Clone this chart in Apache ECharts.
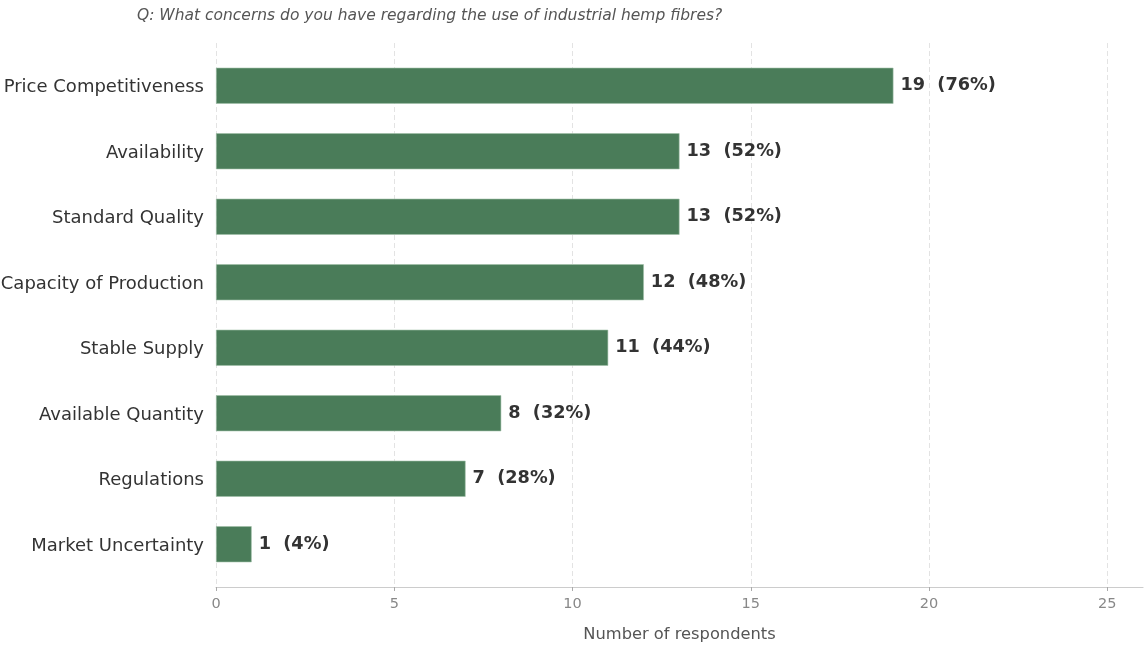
<!DOCTYPE html>
<html>
<head>
<meta charset="utf-8">
<script src="https://cdn.jsdelivr.net/npm/echarts@6/dist/echarts.min.js"></script>
<style>
  html, body { margin: 0; padding: 0; background: #fff; }
  #chart { width: 1144px; height: 646px; }
</style>
</head>
<body>
<div id="chart"></div>
<script>
// Survey answers, top to bottom
const categories = [
  'Price Competitiveness',
  'Availability',
  'Standard Quality',
  'Capacity of Production',
  'Stable Supply',
  'Available Quantity',
  'Regulations',
  'Market Uncertainty'
];
const respondents = [19, 13, 13, 12, 11, 8, 7, 1];
const percents = [76, 52, 52, 48, 44, 32, 28, 4];
const xTicks = [0, 5, 10, 15, 20, 25];

const titleText = 'Q: What concerns do you have regarding the use of industrial hemp fibres?';
const xName = 'Number of respondents';

const FONT = 'DejaVu Sans';
const TICK_MAX = 25;   // last gridline
const XMAX = 26;       // right end of the axis

const chart = echarts.init(document.getElementById('chart'), null, { renderer: 'canvas' });

const fixedGrid = { outerBoundsMode: 'none', containLabel: false };

chart.setOption({
  animation: false,
  backgroundColor: '#ffffff',
  title: {
    text: titleText,
    left: 132,
    top: 3,
    textStyle: { fontFamily: FONT, fontStyle: 'italic', fontWeight: 'normal', fontSize: 15.5, color: '#555555' }
  },
  grid: [
    // bar area
    Object.assign({ left: 216, right: 1, top: 53, bottom: 69 }, fixedGrid),
    // gridlines, ticks and tick labels (0..25)
    Object.assign({ left: 216, right: 1144 - 216 - (1143 - 216) * TICK_MAX / XMAX, top: 43, bottom: 59 }, fixedGrid),
    // full-width bottom axis line (0..26)
    Object.assign({ left: 216, right: 1, top: 43, bottom: 59 }, fixedGrid)
  ],
  xAxis: [
    {
      gridIndex: 0, type: 'value', min: 0, max: XMAX,
      show: false
    },
    {
      gridIndex: 1, type: 'value', min: 0, max: TICK_MAX, interval: 5,
      name: '',
      axisLine: { show: false },
      axisTick: { show: true, length: 4, lineStyle: { color: '#aaaaaa' } },
      axisLabel: {
        fontFamily: FONT, fontSize: 14.5, color: '#888888', margin: 10,
        formatter: v => (xTicks.indexOf(v) >= 0 ? String(v) : '')
      },
      splitLine: { show: true, lineStyle: { color: '#e3e3e3', type: [5, 3], width: 1 } }
    },
    {
      gridIndex: 2, type: 'value', min: 0, max: XMAX,
      name: xName, nameLocation: 'middle', nameGap: 40,
      nameTextStyle: { fontFamily: FONT, fontSize: 16.3, color: '#555555' },
      axisLine: { show: true, lineStyle: { color: '#cccccc', width: 1.2 } },
      axisTick: { show: false },
      axisLabel: { show: false },
      splitLine: { show: false }
    }
  ],
  yAxis: [
    {
      gridIndex: 0, type: 'category', data: categories, inverse: true,
      axisLine: { show: false }, axisTick: { show: false },
      axisLabel: {
        margin: 12,
        formatter: v => '{c|' + v + '}',
        rich: { c: { fontFamily: FONT, fontSize: 18, color: '#333333', padding: [4, 0, 0, 0] } }
      }
    },
    { gridIndex: 1, type: 'value', show: false, min: 0, max: 1 },
    { gridIndex: 2, type: 'value', show: false, min: 0, max: 1 }
  ],
  series: [
    {
      type: 'bar',
      xAxisIndex: 0, yAxisIndex: 0,
      data: respondents,
      barWidth: '55%',
      itemStyle: { color: '#4a7c59', borderColor: '#9fbfa8', borderWidth: 0.6 },
      label: {
        show: true, position: 'right', distance: 7,
        fontFamily: FONT, fontSize: 17.7, fontWeight: 'bold', color: '#333333',
        formatter: p => respondents[p.dataIndex] + '  (' + percents[p.dataIndex] + '%)'
      }
    }
  ]
});
</script>
</body>
</html>
